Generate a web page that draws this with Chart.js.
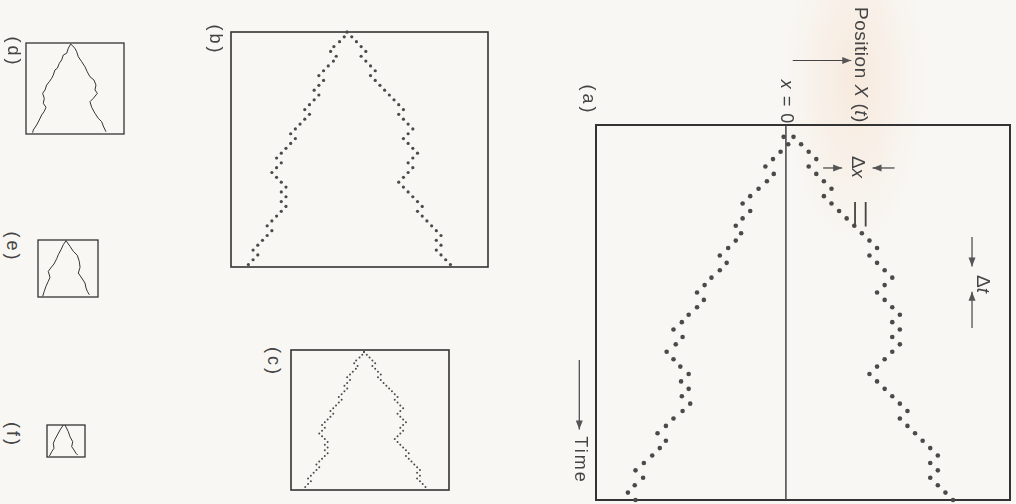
<!DOCTYPE html>
<html>
<head>
<meta charset="utf-8">
<script src="https://cdn.jsdelivr.net/npm/chart.js@4.4.0/dist/chart.umd.min.js"></script>
<style>
html, body { margin: 0; padding: 0; }
body {
	width: 1016px; height: 504px; position: relative; overflow: hidden;
	background: #f8f7f4 radial-gradient(ellipse 70px 170px at 855px 80px, rgba(246,205,172,0.32), rgba(246,205,172,0) 100%);
	font-family: "Liberation Sans", Arial, sans-serif; color: #444;
}
canvas { position: absolute; }
.lbl { position: absolute; transform: translate(-50%, -50%) rotate(90deg); white-space: nowrap; font-size: 18px; }
</style>
</head>
<body>
<canvas id="chartA" style="left:560px;top:0px" width="456" height="504"></canvas>
<canvas id="chartB" style="left:225px;top:26px" width="269" height="247"></canvas>
<canvas id="chartC" style="left:285px;top:344px" width="170" height="152"></canvas>
<canvas id="chartD" style="left:20px;top:37px" width="110" height="103"></canvas>
<canvas id="chartE" style="left:32px;top:234px" width="72" height="69"></canvas>
<canvas id="chartF" style="left:41px;top:419px" width="50" height="44"></canvas>

<div class="lbl" style="left:588px;top:100px;letter-spacing:3px">(a)</div>
<div class="lbl" style="left:861px;top:65px;font-size:19px;letter-spacing:0.5px">Position <i>X</i> (<i>t</i>)</div>
<div class="lbl" style="left:786px;top:102px;font-size:18px;letter-spacing:1px"><i>x</i> = 0</div>
<div class="lbl" style="left:858px;top:167px;font-size:19px">Δ<i>x</i></div>
<div class="lbl" style="left:983px;top:284px;font-size:19px">Δ<i>t</i></div>
<div class="lbl" style="left:580px;top:460px;font-size:18px;letter-spacing:2px">Time</div>
<div class="lbl" style="left:215px;top:40px;letter-spacing:3px">(b)</div>
<div class="lbl" style="left:273px;top:362px;letter-spacing:3px">(c)</div>
<div class="lbl" style="left:13px;top:52px;letter-spacing:3px">(d)</div>
<div class="lbl" style="left:12px;top:247px;letter-spacing:3px">(e)</div>
<div class="lbl" style="left:12px;top:435px;letter-spacing:3px">(f)</div>

<script>
// (a): position of each walk (in steps of dx), one value per time step 1..50
let aRight = [1,2,3,4,3,4,5,6,5,6, 7,8,9,10,11,12,11,12,13,14, 13,12,13,14,15,14,15,14,15,14,
	13,12,11,12,13,14,15,16,15,16, 17,18,19,20,19,20,19,20,21,22];
let aLeft = [-0.3,0.3,-0.7,-1.7,-2.7,-1.6,-2.5,-3.6,-4.7,-5.7, -4.7,-5.7,-6.6,-5.9,-6.6,-7.6,-8.7,-7.8,-8.7,-9.8,
	-10.7,-11.7,-10.8,-11.7,-12.8,-13.7,-14.8,-13.6,-14.5,-15.7, -14.8,-13.9,-12.8,-13.8,-12.8,-13.7,-12.6,-13.6,-14.8,-15.8,
	-16.9,-15.8,-16.6,-17.6,-18.7,-19.8,-18.8,-19.9,-20.8,-19.8];

// (b) and (c): same walk drawn smaller, time steps 0..48
let bRight = [0,1,2,3,4,3,4,5,6,5, 6,7,8,9,10,11,12,11,12,13, 14,13,12,13,14,15,14,13,14,13,
	12,11,12,13,14,15,16,15,16,17, 18,19,20,19,20,19,20,21,22];
let bLeft = [0,-0.6,-1.6,-2.8,-3.5,-2.3,-2.9,-4,-5,-6, -5,-6,-7,-6,-7,-8,-9,-8,-9,-10,
	-11,-12,-11,-12,-13,-14,-15,-14,-15,-16, -15,-14,-13,-14,-13,-14,-13,-14,-15,-16,
	-17,-16,-17,-18,-19,-20,-19,-20,-21];

// (d), (e), (f): traced lines, [time (0-100), position]
let dLeft = [[1.1,0],[5.8,-2.6],[11.3,-4.4],[13.2,-8.1],[18.7,-9.9],[22.3,-12.5],[27.8,-14.7],[29.7,-17.3],[35.2,-19.1],
	[38.8,-20.9],[42.5,-23.5],[46.2,-26.4],[51.6,-28.2],[55.3,-30.8],[60.8,-29],[66.3,-30.1],[70.7,-27.1],[75.5,-29.3],
	[79.1,-31.9],[84.6,-34.5],[90.1,-37.4],[95.6,-41.1],[98.6,-41.8]];
let dRight = [[1.1,0],[5.8,4.7],[9.6,6.6],[15.1,8.4],[20.6,12.1],[26.1,15.7],[31.6,18.2],[37.1,21.2],[40.7,25.6],
	[46.2,27.8],[51.6,26.7],[55.3,29.3],[60.8,24.9],[64.5,21.2],[70.7,23.1],[77.3,26.7],[82.7,30.3],[86.5,34.1],
	[91.2,35.8],[97.5,38.8]];
let eLeft = [[1.2,0],[8.2,-4.7],[17,-8.8],[25.8,-13.5],[32.8,-16.3],[42.1,-21.1],[49.1,-26.8],[55,-31.1],[65.4,-28.1],
	[72.5,-31.1],[81.2,-35.1],[90,-38.1],[98.8,-40.9]];
let eRight = [[1.2,0],[11.1,7],[19.9,12.8],[26.8,19.8],[37.4,23.3],[47.9,24.6],[57.9,21.6],[66.7,27.5],[75.4,33.3],
	[84.2,35.1],[90,37.4],[96,40.9]];
let fLeft = [[0,-0.6],[15.6,-10.9],[31.3,-19.4],[44.7,-26.6],[57.2,-31.9],[72.8,-29.7],[83.4,-36.9],[93.8,-42.2],[96.9,-44.4]];
let fRight = [[0,4.7],[20.9,15],[36.6,20.3],[52.2,28.8],[67.8,25.6],[78.1,32.8],[88.4,39.1],[93.8,44.4]];

const ink = "#4a4a4a";

const boxBorder = {
	id: "boxBorder",
	beforeDatasetsDraw(chart, args, opts) {
		const a = chart.chartArea;
		const ctx = chart.ctx;
		ctx.save();
		ctx.strokeStyle = "#333";
		ctx.lineWidth = opts.width || 1.5;
		ctx.strokeRect(a.left, a.top, a.right - a.left, a.bottom - a.top);
		ctx.restore();
	}
};

function arrow(ctx, x1, y1, x2, y2) {
	let ang = Math.atan2(y2 - y1, x2 - x1);
	ctx.beginPath();
	ctx.moveTo(x1, y1);
	ctx.lineTo(x2, y2);
	ctx.stroke();
	ctx.beginPath();
	ctx.moveTo(x2, y2);
	ctx.lineTo(x2 - 9 * Math.cos(ang) + 3.5 * Math.sin(ang), y2 - 9 * Math.sin(ang) - 3.5 * Math.cos(ang));
	ctx.lineTo(x2 - 9 * Math.cos(ang) - 3.5 * Math.sin(ang), y2 - 9 * Math.sin(ang) + 3.5 * Math.cos(ang));
	ctx.closePath();
	ctx.fill();
}

// x = 0 line, arrows and ticks of panel (a), placed in data units
const marksA = {
	id: "marksA",
	beforeDatasetsDraw(chart) {
		const ctx = chart.ctx;
		const sx = chart.scales.x, sy = chart.scales.y;
		const px = v => sx.getPixelForValue(v), py = v => sy.getPixelForValue(v);
		ctx.save();
		ctx.strokeStyle = "#444";
		ctx.fillStyle = "#555";
		ctx.lineWidth = 1.5;
		ctx.beginPath();
		ctx.moveTo(px(0), py(sy.min));
		ctx.lineTo(px(0), py(sy.max));
		ctx.stroke();
		ctx.lineWidth = 1.2;
		arrow(ctx, px(0.9), py(-9.3), px(8.6), py(-9.3));
		arrow(ctx, px(4.9), py(5.2), px(7.4), py(5.2));
		arrow(ctx, px(14.3), py(5.2), px(11.4), py(5.2));
		arrow(ctx, px(24.5), py(14.5), px(24.5), py(18.5));
		arrow(ctx, px(24.5), py(26.8), px(24.5), py(21.9));
		arrow(ctx, px(-27.2), py(31.1), px(-27.2), py(40.5));
		ctx.lineWidth = 1.8;
		ctx.beginPath();
		ctx.moveTo(px(9.1), py(9.8)); ctx.lineTo(px(9.1), py(13.1));
		ctx.moveTo(px(10.5), py(9.8)); ctx.lineTo(px(10.5), py(13.1));
		ctx.stroke();
		ctx.restore();
	}
};

function dots(values, t0, r) {
	return {
		data: values.map((v, i) => ({x: v, y: i + t0})),
		pointRadius: r,
		pointBackgroundColor: ink,
		pointBorderWidth: 0,
		showLine: false,
		clip: false
	};
}

function trace(pairs) {
	return {
		data: pairs.map(p => ({x: p[1], y: p[0]})),
		showLine: true,
		pointRadius: 0,
		borderColor: "#333",
		borderWidth: 1,
		tension: 0,
		clip: false
	};
}

function makeChart(id, datasets, xr, yr, pad, border, extra) {
	return new Chart(id, {
		type: "scatter",
		data: { datasets: datasets },
		options: {
			responsive: false,
			animation: false,
			devicePixelRatio: 1,
			events: [],
			layout: { padding: pad },
			plugins: {
				legend: { display: false },
				tooltip: { enabled: false },
				boxBorder: { width: border }
			},
			scales: {
				x: { display: false, min: xr[0], max: xr[1] },
				y: { display: false, min: yr[0], max: yr[1], reverse: true }
			}
		},
		plugins: [boxBorder].concat(extra || [])
	});
}

makeChart("chartA", [dots(aRight, 1, 2.3), dots(aLeft, 1, 2.3)], [-25.0, 29.5], [-0.6, 50.0],
	{left: 36, top: 125, right: 6, bottom: 1}, 2, [marksA]);
makeChart("chartB", [dots(bRight, 0, 1.6), dots(bLeft, 0, 1.6)], [-24.7, 30.0], [0, 48.5], 6, 1.6);
makeChart("chartC", [dots(bRight, 0, 1.0), dots(bLeft, 0, 1.0)], [-26.1, 30.4], [-0.7, 49.1], 6, 1.6);
makeChart("chartD", [trace(dLeft), trace(dRight)], [-49.1, 58.6], [0, 100], 6, 1.3);
makeChart("chartE", [trace(eLeft), trace(eRight)], [-49.1, 56.1], [0, 100], 6, 1.3);
makeChart("chartF", [trace(fLeft), trace(fRight)], [-51.6, 67.2], [0, 100], 6, 1.3);
</script>
</body>
</html>
